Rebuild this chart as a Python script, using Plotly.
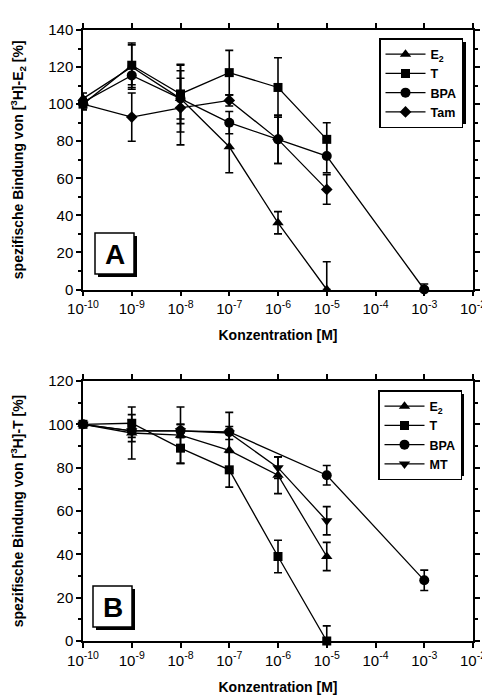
import plotly.graph_objects as go

# ---------------- data ----------------
conc = [1e-10, 1e-9, 1e-8, 1e-7, 1e-6, 1e-5]
conc_bpa_a = [1e-10, 1e-9, 1e-8, 1e-7, 1e-6, 1e-5, 1e-3]
conc_bpa_b = [1e-10, 1e-9, 1e-8, 1e-7, 1e-5, 1e-3]

# Panel A: [3H]-E2 binding
a_e2 = [103, 120, 103, 77, 36, 0]
a_e2_err = [3, 12, 18, 14, 6, 15]
a_t = [100, 121, 105.5, 117, 109, 81]
a_t_err = [3, 12, 16, 12, 16, 9]
a_bpa = [101, 115.5, 103, 90, 81, 72, 0]
a_bpa_err = [3, 5, 11, 6, 13, 9, 3]
a_tam = [100, 93, 98, 102, 81, 54]
a_tam_err = [3, 13, 20, 3, 13, 8]

# Panel B: [3H]-T binding
b_e2 = [100, 96, 95, 88, 76.5, 39]
b_e2_err = [0, 12, 13, 9, 8.5, 6.5]
b_t = [100, 100.5, 89, 79, 39, 0]
b_t_err = [0, 4, 7, 8, 7.5, 7]
b_bpa = [100, 97, 97, 96.5, 76.5, 28]
b_bpa_err = [0, 5, 3, 9, 4.5, 4.7]
b_mt = [100, 97, 97, 96, 80, 55.5]
b_mt_err = [0, 3, 3, 3, 5, 6.5]

xtick_vals = [1e-10, 1e-9, 1e-8, 1e-7, 1e-6, 1e-5, 1e-4, 1e-3, 1e-2]
xtick_text = ["10<sup>-10</sup>", "10<sup>-9</sup>", "10<sup>-8</sup>", "10<sup>-7</sup>",
              "10<sup>-6</sup>", "10<sup>-5</sup>", "10<sup>-4</sup>", "10<sup>-3</sup>",
              "10<sup>-2</sup>"]

names_a = ["<b>E<sub>2</sub></b>", "<b>T</b>", "<b>BPA</b>", "<b>Tam</b>"]
names_b = ["<b>E<sub>2</sub></b>", "<b>T</b>", "<b>BPA</b>", "<b>MT</b>"]

# ---------------- layout geometry ----------------
# the page body adds an 8 px margin, so the figure is 8 px smaller on each axis
OFF = 8
W, H = 490 - OFF, 698 - OFF
ML, MR, MT_, MB = 83 - OFF, 17, 30 - OFF, 57
PW, PH = W - ML - MR, H - MT_ - MB


def px(x):  # reference-pixel x -> paper
    return (x - 83) / PW


def py(y):  # reference-pixel y -> paper
    return (641 - y) / PH


FONT = "Liberation Sans, Arial, sans-serif"

fig = go.Figure()


def add(xs, ys, errs, name, symbol, size, xa, ya, legend):
    minus = [min(e, v) for e, v in zip(errs, ys)]
    fig.add_trace(go.Scatter(
        x=xs, y=ys, name=name, mode="lines+markers",
        line=dict(color="black", width=1.3),
        marker=dict(symbol=symbol, size=size, color="black"),
        error_y=dict(type="data", array=errs, arrayminus=minus, symmetric=False,
                     color="black", thickness=1.6, width=4),
        xaxis=xa, yaxis=ya, legend=legend, cliponaxis=False,
    ))


add(conc, a_e2, a_e2_err, names_a[0], "triangle-up", 10, "x", "y", "legend")
add(conc, a_t, a_t_err, names_a[1], "square", 9, "x", "y", "legend")
add(conc_bpa_a, a_bpa, a_bpa_err, names_a[2], "circle", 10, "x", "y", "legend")
add(conc, a_tam, a_tam_err, names_a[3], "diamond", 9, "x", "y", "legend")

add(conc, b_e2, b_e2_err, names_b[0], "triangle-up", 10, "x2", "y2", "legend2")
add(conc, b_t, b_t_err, names_b[1], "square", 9, "x2", "y2", "legend2")
add(conc_bpa_b, b_bpa, b_bpa_err, names_b[2], "circle", 10, "x2", "y2", "legend2")
add(conc, b_mt, b_mt_err, names_b[3], "triangle-down", 10, "x2", "y2", "legend2")

dom_a = [py(289.5), 1.0]
dom_b = [0.0, py(381)]

xcommon = dict(type="log", range=[-10, -2], tickvals=xtick_vals, ticktext=xtick_text,
               showline=True, linecolor="black", linewidth=1.5, mirror="ticks",
               ticks="outside", ticklen=5, tickwidth=1.5, tickcolor="black",
               showgrid=False, zeroline=False,
               tickfont=dict(family=FONT, size=15, color="black"),
               title=dict(text="<b>Konzentration [M]</b>",
                          font=dict(family=FONT, size=14, color="black"), standoff=14))
ycommon = dict(showline=True, linecolor="black", linewidth=1.5, mirror="ticks",
               ticks="outside", ticklen=5, tickwidth=1.5, tickcolor="black",
               dtick=20, showgrid=False, zeroline=False,
               minor=dict(dtick=10, ticks="outside", ticklen=3, tickwidth=1.5, tickcolor="black", showgrid=False),
               tickfont=dict(family=FONT, size=15, color="black"))

fig.update_layout(
    width=W, height=H,
    margin=dict(l=ML, r=MR, t=MT_, b=MB, autoexpand=False),
    paper_bgcolor="white", plot_bgcolor="white",
    font=dict(family=FONT, color="black"),
    xaxis=dict(domain=[0, 1], anchor="y", **xcommon),
    xaxis2=dict(domain=[0, 1], anchor="y2", **xcommon),
    yaxis=dict(domain=dom_a, anchor="x", range=[0, 140],
               title=dict(text="<b>spezifische Bindung von [<sup>3</sup>H]-E<sub>2</sub> [%]</b>",
                          font=dict(family=FONT, size=14, color="black"), standoff=30),
               **ycommon),
    yaxis2=dict(domain=dom_b, anchor="x2", range=[0, 120],
                title=dict(text="<b>spezifische Bindung von [<sup>3</sup>H]-T [%]</b>",
                           font=dict(family=FONT, size=14, color="black"), standoff=30),
                **ycommon),
    legend=dict(x=px(379), y=py(38), xanchor="left", yanchor="top",
                bgcolor="white", bordercolor="black", borderwidth=1.5,
                font=dict(family=FONT, size=12.5, color="black"),
                itemwidth=40, tracegroupgap=0),
    legend2=dict(x=px(378), y=py(390), xanchor="left", yanchor="top",
                 bgcolor="white", bordercolor="black", borderwidth=1.5,
                 font=dict(family=FONT, size=12.5, color="black"),
                 itemwidth=40, tracegroupgap=0),
    showlegend=True,
)

shapes = []
# legend shadows
for (x0, y0, x1, y1) in [(379, 38, 462, 120), (378, 390, 460, 472)]:
    shapes.append(dict(type="rect", xref="paper", yref="paper",
                       x0=px(x0 + 4), x1=px(x1 + 4), y0=py(y1 + 4), y1=py(y0 + 4),
                       fillcolor="black", line=dict(width=0), layer="above"))
# panel label boxes with shadows
for (x0, y0, x1, y1) in [(95, 233, 134, 274), (93, 586, 132, 627)]:
    shapes.append(dict(type="rect", xref="paper", yref="paper",
                       x0=px(x0 + 3), x1=px(x1 + 3), y0=py(y1 + 3), y1=py(y0 + 3),
                       fillcolor="black", line=dict(width=0), layer="above"))
    shapes.append(dict(type="rect", xref="paper", yref="paper",
                       x0=px(x0), x1=px(x1), y0=py(y1), y1=py(y0),
                       fillcolor="white", line=dict(width=1.5, color="black"), layer="above"))
fig.update_layout(shapes=shapes)

fig.add_annotation(x=px(114.5), y=py(254), xref="paper", yref="paper", text="<b>A</b>",
                   xanchor="center", yanchor="middle",
                   showarrow=False, font=dict(family=FONT, size=28, color="black"))
fig.add_annotation(x=px(112.5), y=py(607), xref="paper", yref="paper", text="<b>B</b>",
                   xanchor="center", yanchor="middle",
                   showarrow=False, font=dict(family=FONT, size=28, color="black"))

fig.write_html("out.html")
